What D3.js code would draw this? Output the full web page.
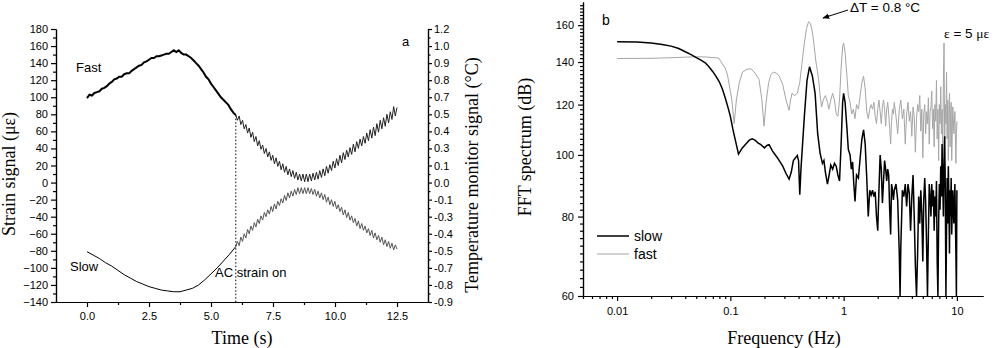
<!doctype html>
<html lang="en">
<head>
<meta charset="UTF-8" />
<script src="https://d3js.org/d3.v7.min.js"></script>
<title>Strain signal and FFT spectrum</title>
<style>
    body { margin: 0; background: #fff; }
    svg { display: block; font-family: "Liberation Sans", Arial, sans-serif; }
    .axis path, .axis line { stroke: #000; stroke-width: 1.2; }
    .axis text { font-size: 11px; fill: #000; font-family: "Liberation Sans", Arial, sans-serif; }
    .title { font-family: "Liberation Serif", "Times New Roman", serif; font-size: 18px; fill: #000; }
    .note { font-size: 13px; fill: #000; }
</style>
</head>
<body>
<div id="chart"></div>
<script>
// ---- panel a data ----
const timeTicks = [0, 2.5, 5, 7.5, 10, 12.5]
const timeMinor = [1.25, 3.75, 6.25, 8.75, 11.25]
const strainTicks = [-140, -120, -100, -80, -60, -40, -20, 0, 20, 40, 60, 80, 100, 120, 140, 160, 180]
const strainMinor = [-130, -110, -90, -70, -50, -30, -10, 10, 30, 50, 70, 90, 110, 130, 150, 170]
const tempTickLabels = ["1.2", "1.0", "0.9", "0.8", "0.7", "0.5", "0.4", "0.3", "0.1", "0.0",
    "-0.1", "-0.3", "-0.4", "-0.5", "-0.7", "-0.8", "-0.9"]

// before AC strain (0..6 s)
const fastPreStep = 0.1
const fastPre = [99, 103, 102, 105, 106, 107, 110, 111, 113, 116,
    118, 121, 122, 124, 124, 127, 128, 128, 131, 133,
    135, 137, 138, 141, 142, 144, 146, 146, 148, 148,
    149, 150, 151, 151, 153, 155, 153, 155, 152, 150,
    150, 148, 146, 143, 140, 137, 133, 129, 124, 121,
    116, 112, 108, 104, 100, 97, 94, 91, 86, 82, 79]
const slowPreStep = 0.25
const slowPre = [-81, -85, -89, -94, -98, -103, -108, -112, -116, -119, -122, -124, -126,
    -127, -128, -128, -126, -124, -120, -114, -107, -100, -92, -84, -75]

// after AC strain on (6..12.5 s), peaks and troughs
const acStart = 6
const acStep = 6.5 / 96
const fastAc = [79, 73, 78, 68, 73, 63, 68, 58, 64, 53,
    59, 48, 54, 43, 49, 39, 44, 34, 40, 30,
    36, 26, 32, 22, 29, 19, 25, 15, 22, 12,
    19, 9, 16, 7, 14, 5, 12, 3, 10, 2,
    10, 1, 10, 1, 10, 2, 11, 3, 12, 4,
    14, 6, 16, 8, 19, 11, 21, 14, 25, 17,
    28, 20, 32, 23, 35, 27, 38, 30, 41, 33,
    45, 36, 48, 40, 51, 43, 54, 46, 58, 49,
    62, 52, 65, 55, 69, 59, 73, 63, 76, 66,
    80, 70, 83, 74, 89, 78, 88]
const slowAc = [-75, -69, -74, -64, -69, -60, -65, -55, -60, -51,
    -56, -47, -52, -43, -48, -39, -44, -35, -40, -32,
    -37, -28, -34, -25, -31, -22, -27, -19, -24, -15,
    -21, -12, -18, -10, -16, -8, -14, -6, -13, -6,
    -13, -6, -13, -6, -13, -7, -14, -8, -16, -10,
    -18, -12, -20, -14, -23, -17, -26, -20, -28, -22,
    -31, -26, -34, -29, -38, -32, -41, -35, -44, -39,
    -47, -42, -51, -45, -54, -48, -56, -51, -59, -54,
    -62, -56, -65, -59, -67, -62, -70, -64, -73, -67,
    -75, -69, -77, -71, -79, -73, -78]

// ---- panel b data ----
const freqTicks = [0.01, 0.1, 1, 10]
const dbTicks = [60, 80, 100, 120, 140, 160]

const slowFft = [[0.01, 150.7], [0.015, 150.5], [0.02, 150], [0.025, 149.2], [0.03, 148.3], [0.035, 147],
    [0.04, 145.3], [0.045, 143.8], [0.05, 142.3], [0.055, 141], [0.06, 139.6], [0.065, 137.5],
    [0.07, 135.2], [0.075, 132.8], [0.08, 130.2], [0.085, 127], [0.09, 123], [0.095, 119],
    [0.1, 115], [0.105, 110], [0.11, 106], [0.118, 100.3], [0.127, 102.5], [0.137, 104],
    [0.147, 105.5], [0.156, 106], [0.165, 105.5], [0.175, 104.5], [0.186, 103.8], [0.2, 102.6],
    [0.21, 103.5], [0.22, 103.8], [0.235, 101.5], [0.26, 99], [0.29, 96], [0.31, 93.5], [0.33, 91.6],
    [0.345, 94], [0.36, 98], [0.39, 99.8], [0.4, 98], [0.41, 86.6], [0.42, 95], [0.45, 115],
    [0.475, 131], [0.5, 137.6], [0.53, 133], [0.56, 125], [0.59, 108], [0.62, 100.6], [0.65, 97],
    [0.67, 98], [0.69, 94], [0.72, 90], [0.745, 93], [0.77, 96.4], [0.8, 95], [0.83, 97],
    [0.86, 96], [0.89, 93], [0.92, 91], [0.95, 104], [0.98, 121], [1.0, 125], [1.03, 121],
    [1.07, 110], [1.1, 102], [1.14, 100], [1.17, 95], [1.2, 97.5], [1.23, 90], [1.26, 84.5],
    [1.3, 93], [1.35, 92], [1.4, 99], [1.45, 106], [1.5, 109.5], [1.55, 104], [1.6, 92],
    [1.65, 80], [1.7, 88], [1.75, 86.5], [1.8, 88], [1.85, 86], [1.9, 87.5], [1.95, 80],
    [2.0, 76], [2.05, 88], [2.1, 100], [2.15, 95], [2.2, 84], [2.25, 91], [2.3, 98], [2.35, 95],
    [2.4, 91], [2.45, 95], [2.5, 93], [2.55, 82], [2.6, 75], [2.65, 90], [2.7, 88], [2.75, 85],
    [2.8, 88], [2.9, 90], [3.0, 85], [3.1, 70], [3.15, 60], [3.2, 72], [3.3, 88], [3.4, 86],
    [3.5, 90], [3.6, 83], [3.7, 90], [3.8, 87], [3.9, 76], [4.0, 86], [4.1, 93], [4.2, 80],
    [4.3, 67], [4.4, 60], [4.5, 70], [4.6, 86], [4.7, 78], [4.8, 88], [4.9, 81], [5.0, 68],
    [5.1, 85], [5.2, 92], [5.3, 84], [5.4, 72], [5.5, 60], [5.6, 75], [5.7, 90], [5.8, 86],
    [5.9, 80], [6.0, 90], [6.1, 83], [6.2, 88], [6.3, 76], [6.4, 86], [6.5, 80], [6.6, 91],
    [6.7, 68], [6.8, 60], [6.9, 78], [7.0, 90], [7.1, 82], [7.2, 96], [7.3, 86], [7.4, 104],
    [7.5, 90], [7.6, 80], [7.7, 98], [7.8, 107], [7.9, 88], [8.0, 60], [8.1, 76], [8.2, 92],
    [8.3, 78], [8.4, 96], [8.5, 85], [8.6, 70], [8.7, 88], [8.8, 80], [8.9, 92], [9.0, 75],
    [9.2, 88], [9.4, 78], [9.6, 90], [9.8, 70], [9.9, 60], [10.0, 88]]

const fastFft = [[0.01, 141.8], [0.02, 141.9], [0.03, 142.2], [0.04, 142.5], [0.05, 142.7], [0.06, 142.6],
    [0.07, 142.3], [0.079, 142], [0.085, 139], [0.09, 137], [0.094, 134], [0.1, 126], [0.103, 122],
    [0.108, 112], [0.113, 122], [0.12, 130], [0.128, 135], [0.14, 136.4], [0.152, 136.6],
    [0.165, 134.5], [0.179, 131.5], [0.19, 122], [0.198, 111], [0.208, 122], [0.218, 130],
    [0.227, 133.5], [0.24, 135], [0.255, 134.5], [0.27, 133], [0.29, 129], [0.31, 122],
    [0.33, 117.5], [0.34, 122], [0.35, 125], [0.37, 124], [0.39, 125], [0.41, 130], [0.43, 140],
    [0.45, 150], [0.47, 158], [0.49, 162], [0.51, 161], [0.53, 156], [0.55, 148], [0.57, 140],
    [0.6, 132], [0.62, 124], [0.64, 119], [0.66, 122], [0.69, 124], [0.72, 121], [0.74, 118],
    [0.77, 122], [0.8, 125], [0.83, 122], [0.86, 116], [0.89, 115], [0.92, 122], [0.95, 137],
    [0.98, 148], [1.0, 150], [1.03, 145], [1.07, 133], [1.1, 124], [1.14, 121], [1.18, 116],
    [1.22, 118], [1.26, 114], [1.3, 120], [1.35, 118], [1.4, 124], [1.45, 130], [1.5, 133],
    [1.55, 127], [1.6, 117], [1.65, 114], [1.7, 118], [1.75, 120], [1.8, 118], [1.85, 121],
    [1.9, 115], [1.95, 112], [2.0, 118], [2.05, 122], [2.1, 117], [2.15, 112], [2.2, 119],
    [2.25, 122], [2.3, 118], [2.35, 111], [2.4, 118], [2.45, 121], [2.5, 116], [2.55, 110],
    [2.6, 104], [2.65, 113], [2.7, 118], [2.75, 116], [2.8, 121], [2.9, 115], [3.0, 108],
    [3.1, 118], [3.2, 122], [3.3, 114], [3.4, 118], [3.5, 104], [3.6, 116], [3.7, 121],
    [3.8, 113], [3.9, 117], [4.0, 107], [4.1, 119], [4.2, 115], [4.3, 101], [4.4, 114],
    [4.5, 120], [4.6, 117], [4.7, 124], [4.8, 109], [4.9, 118], [5.0, 99], [5.1, 116],
    [5.2, 120], [5.3, 108], [5.4, 117], [5.5, 112], [5.6, 123], [5.7, 104], [5.8, 117],
    [5.9, 119], [6.0, 126], [6.1, 110], [6.2, 118], [6.3, 103], [6.4, 120], [6.5, 113],
    [6.6, 131], [6.7, 106], [6.8, 118], [6.9, 98], [7.0, 120], [7.1, 112], [7.2, 128],
    [7.3, 108], [7.4, 118], [7.5, 100], [7.6, 130], [7.7, 150], [7.75, 125], [7.8, 104],
    [7.9, 120], [8.0, 112], [8.1, 135], [8.2, 106], [8.3, 122], [8.4, 98], [8.5, 118],
    [8.6, 125], [8.7, 103], [8.8, 116], [8.9, 121], [9.0, 98], [9.2, 119], [9.4, 108],
    [9.6, 117], [9.8, 97], [9.9, 108], [10.0, 113]]

// ---- svg ----
const svg = d3.select("#chart").append("svg")
    .attr("width", 1000)
    .attr("height", 348)

// ================= panel a =================
const xA = d3.scaleLinear().domain([-1.25, 13.75]).range([56, 428])
const yA = d3.scaleLinear().domain([-140, 180]).range([302, 29])
const yA2 = d3.scalePoint().domain(tempTickLabels).range([29, 302])

svg.append("g").attr("class", "axis").attr("transform", "translate(0,302)")
    .call(d3.axisBottom(xA).tickValues(timeTicks).tickFormat(d3.format(".1f"))
        .tickSize(5).tickPadding(5).tickSizeOuter(0))
svg.append("g").attr("class", "axis").attr("transform", "translate(0,302)")
    .call(d3.axisBottom(xA).tickValues(timeMinor).tickFormat("").tickSize(3).tickSizeOuter(0))

svg.append("g").attr("class", "axis").attr("transform", "translate(56,0)")
    .call(d3.axisLeft(yA).tickValues(strainTicks).tickSize(5).tickPadding(3).tickSizeOuter(0))
svg.append("g").attr("class", "axis").attr("transform", "translate(56,0)")
    .call(d3.axisLeft(yA).tickValues(strainMinor).tickFormat("").tickSize(3).tickSizeOuter(0))

svg.append("g").attr("class", "axis").attr("transform", "translate(428,0)")
    .call(d3.axisRight(yA2).tickSize(4).tickPadding(2).tickSizeOuter(0))
svg.append("g").attr("class", "axis").attr("transform", "translate(428,0)")
    .call(d3.axisRight(yA).tickValues(strainMinor).tickFormat("").tickSize(2.5).tickSizeOuter(0))

const lineA = d3.line().x(d => xA(d[0])).y(d => yA(d[1]))
const series = (vals, t0, dt) => vals.map((v, i) => [t0 + i * dt, v])

svg.append("path").datum(series(slowPre, 0, slowPreStep))
    .attr("d", lineA).attr("fill", "none").attr("stroke", "#000").attr("stroke-width", 1)
svg.append("path").datum(series(fastPre, 0, fastPreStep))
    .attr("d", lineA).attr("fill", "none").attr("stroke", "#000").attr("stroke-width", 2)
svg.append("path").datum(series(fastAc, acStart, acStep))
    .attr("d", lineA).attr("fill", "none").attr("stroke", "#222").attr("stroke-width", 1)
svg.append("path").datum(series(slowAc, acStart, acStep))
    .attr("d", lineA).attr("fill", "none").attr("stroke", "#555").attr("stroke-width", 1)

// AC strain on marker
svg.append("line")
    .attr("x1", xA(acStart)).attr("x2", xA(acStart))
    .attr("y1", yA(fastAc[0])).attr("y2", yA(-140))
    .attr("stroke", "#000").attr("stroke-width", 1).attr("stroke-dasharray", "1.5,2")

svg.append("text").attr("class", "note").attr("x", 76).attr("y", 72).text("Fast")
svg.append("text").attr("class", "note").attr("x", 70).attr("y", 271).text("Slow")
svg.append("text").attr("class", "note").attr("x", 215).attr("y", 277).text("AC strain on")
svg.append("text").attr("class", "note").attr("x", 402).attr("y", 46).text("a")

svg.append("text").attr("class", "title")
    .attr("transform", "translate(15,174) rotate(-90)")
    .attr("text-anchor", "middle").text("Strain signal (με)")
svg.append("text").attr("class", "title")
    .attr("transform", "translate(478,175) rotate(-90)")
    .attr("text-anchor", "middle").text("Temperature monitor signal (°C)")
svg.append("text").attr("class", "title")
    .attr("x", 242).attr("y", 344).attr("text-anchor", "middle").text("Time (s)")

// ================= panel b =================
const xB = d3.scaleLog().domain([0.005, 17]).range([583, 983])
const yB = d3.scaleLog().domain([60, 174]).range([296, 2])

const freqMinor = []
;[0.001, 0.01, 0.1, 1].forEach(dec => {
    for (let k = 2; k <= 9; k++) {
        const f = dec * k
        if (f >= 0.005 && f <= 17) freqMinor.push(f)
    }
})
const dbMinor = d3.range(62, 174, 2).filter(d => d % 20 !== 0)

svg.append("g").attr("class", "axis").attr("transform", "translate(0,296)")
    .call(d3.axisBottom(xB).tickValues(freqTicks).tickFormat(d3.format("~g"))
        .tickSize(5).tickPadding(6).tickSizeOuter(0))
svg.append("g").attr("class", "axis").attr("transform", "translate(0,296)")
    .call(d3.axisBottom(xB).tickValues(freqMinor).tickFormat("").tickSize(3).tickSizeOuter(0))

svg.append("g").attr("class", "axis").attr("transform", "translate(583,0)")
    .call(d3.axisLeft(yB).tickValues(dbTicks).tickFormat(d3.format("d"))
        .tickSize(5).tickPadding(4).tickSizeOuter(0))
svg.append("g").attr("class", "axis").attr("transform", "translate(583,0)")
    .call(d3.axisLeft(yB).tickValues(dbMinor).tickFormat("").tickSize(3).tickSizeOuter(0))

const lineB = d3.line().x(d => xB(d[0])).y(d => yB(d[1]))
svg.append("path").datum(fastFft)
    .attr("d", lineB).attr("fill", "none").attr("stroke", "#a6a6a6").attr("stroke-width", 1)
svg.append("path").datum(slowFft)
    .attr("d", lineB).attr("fill", "none").attr("stroke", "#000").attr("stroke-width", 1.5)

// legend
const legend = [["slow", "#000", 1.5, 236], ["fast", "#a6a6a6", 1, 254]]
legend.forEach(([name, col, w, y]) => {
    svg.append("line").attr("x1", 597).attr("x2", 629).attr("y1", y).attr("y2", y)
        .attr("stroke", col).attr("stroke-width", w)
    svg.append("text").attr("x", 634).attr("y", y + 5).attr("font-size", 14).text(name)
})

svg.append("text").attr("x", 602).attr("y", 25).attr("font-size", 14).text("b")

// annotations
svg.append("defs").append("marker")
    .attr("id", "arrow").attr("viewBox", "0 0 10 10").attr("refX", 9).attr("refY", 5)
    .attr("markerWidth", 7).attr("markerHeight", 7).attr("orient", "auto")
    .append("path").attr("d", "M0,1 L10,5 L0,9 Z").attr("fill", "#000")
svg.append("line").attr("x1", 848).attr("y1", 10).attr("x2", 823).attr("y2", 18)
    .attr("stroke", "#000").attr("stroke-width", 1).attr("marker-end", "url(#arrow)")
svg.append("text").attr("x", 850).attr("y", 12).attr("font-size", 13.5).text("ΔT = 0.8 °C")

const eps = svg.append("text").attr("x", 944).attr("y", 38).attr("font-size", 13.5)
eps.append("tspan").attr("font-family", "Liberation Serif, serif").text("ε")
eps.append("tspan").text(" = 5 ")
eps.append("tspan").attr("font-family", "Liberation Serif, serif").text("με")

svg.append("text").attr("class", "title")
    .attr("transform", "translate(531,147) rotate(-90)")
    .attr("text-anchor", "middle").text("FFT spectrum (dB)")
svg.append("text").attr("class", "title")
    .attr("x", 784).attr("y", 344).attr("text-anchor", "middle").text("Frequency (Hz)")
</script>
</body>
</html>
